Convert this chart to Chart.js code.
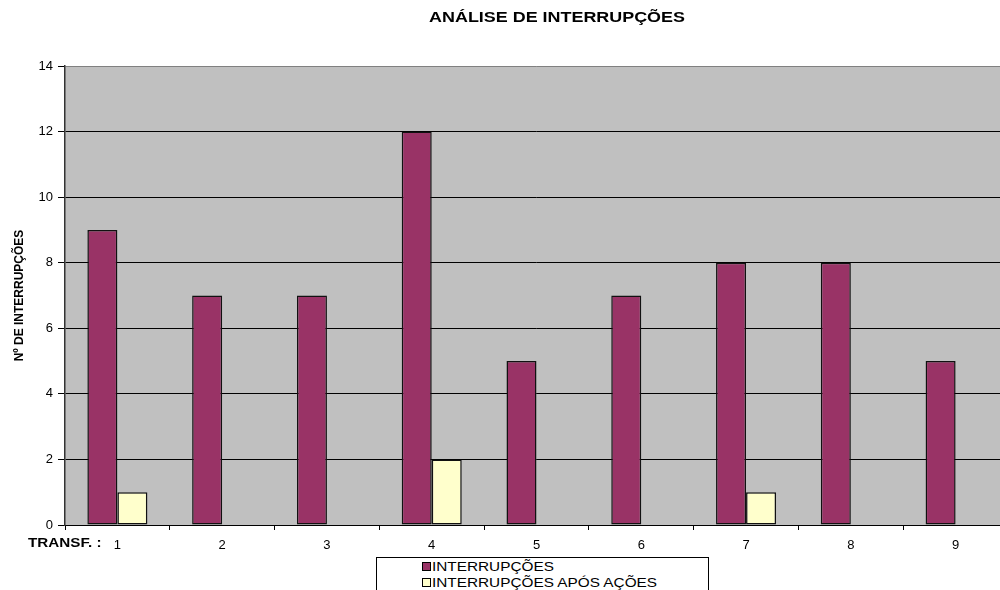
<!DOCTYPE html>
<html>
<head>
<meta charset="utf-8">
<script src="https://cdn.jsdelivr.net/npm/chart.js@4.4.1/dist/chart.umd.min.js"></script>
<style>
  html, body { margin: 0; padding: 0; background: #ffffff; }
  #frame { position: relative; width: 1000px; height: 590px; overflow: hidden; background: #ffffff; }
  #holder { position: absolute; left: 0; top: 0; width: 1008px; height: 590px; }
  #legend {
    position: absolute; left: 376px; top: 557px; width: 333px; height: 40px;
    border: 1px solid #000; background: #fff; box-sizing: border-box;
    font-family: "Liberation Sans", Arial, sans-serif; font-size: 13px; color: #000;
  }
  #legend .row { position: absolute; left: 45px; height: 16px; line-height: 16px; white-space: nowrap; }
  #legend .sw { position: absolute; left: 0; top: 4px; width: 7px; height: 7px; border: 1px solid #000; }
  #legend .tx { position: absolute; left: 10px; top: 1px; transform: scaleX(1.18); transform-origin: left center; }
</style>
</head>
<body>
<div id="frame">
  <div id="holder"><canvas id="c"></canvas></div>
  <div id="legend"></div>
</div>
<script>
// Transformer numbers and interruption counts
const categories = ['1', '2', '3', '4', '5', '6', '7', '8', '9'];
const interrupcoes = [9, 7, 7, 12, 5, 7, 8, 8, 5];
const aposAcoes = [1, 0, 0, 2, 0, 0, 1, 0, 0];
const yTicks = [0, 2, 4, 6, 8, 10, 12, 14];

const seriesNames = ['INTERRUPÇÕES', 'INTERRUPÇÕES APÓS AÇÕES'];
const seriesColors = ['#993366', '#FFFFCC'];
const chartTitle = 'ANÁLISE DE INTERRUPÇÕES';
const xAxisLabel = 'TRANSF. :';
const yAxisLabel = 'Nº DE INTERRUPÇÕES';

const FONT = '"Liberation Sans", Arial, sans-serif';

// grey plot background
const plotBackground = {
  id: 'plotBackground',
  beforeDraw(chart) {
    const { ctx, chartArea: a } = chart;
    ctx.save();
    ctx.fillStyle = '#C0C0C0';
    ctx.fillRect(a.left, a.top, a.right - a.left, a.bottom - a.top);
    ctx.restore();
  }
};

// chart heading and the category caption left of the x labels
const extraText = {
  id: 'extraText',
  afterDraw(chart) {
    const { ctx } = chart;
    ctx.save();
    ctx.fillStyle = '#000';
    ctx.textBaseline = 'middle';

    ctx.font = 'bold 14px ' + FONT;
    ctx.textAlign = 'center';
    ctx.translate(557, 18);
    ctx.scale(1.28, 1);
    ctx.fillText(chartTitle, 0, 0);
    ctx.setTransform(1, 0, 0, 1, 0, 0);

    ctx.font = 'bold 13px ' + FONT;
    ctx.textAlign = 'left';
    ctx.translate(28, 543);
    ctx.scale(1.17, 1);
    ctx.fillText(xAxisLabel, 0, 0);
    ctx.restore();
  }
};

const chart = new Chart(document.getElementById('c'), {
  type: 'bar',
  data: {
    labels: categories,
    datasets: [
      {
        label: seriesNames[0],
        data: interrupcoes,
        backgroundColor: seriesColors[0],
        borderColor: '#111',
        borderWidth: (c) => (c.raw ? 1.5 : 0),
        borderSkipped: false
      },
      {
        label: seriesNames[1],
        data: aposAcoes,
        backgroundColor: seriesColors[1],
        borderColor: '#111',
        borderWidth: (c) => (c.raw ? 1.5 : 0),
        borderSkipped: false
      }
    ]
  },
  options: {
    responsive: true,
    maintainAspectRatio: false,
    animation: false,
    datasets: { bar: { categoryPercentage: 0.573, barPercentage: 1 } },
    layout: { padding: { top: 66, right: 0, bottom: 0, left: 0 } },
    plugins: {
      legend: { display: false },
      title: { display: false },
      tooltip: { enabled: false }
    },
    scales: {
      x: {
        offset: true,
        grid: {
          display: true,
          offset: true,
          drawOnChartArea: false,
          drawTicks: true,
          tickLength: 5,
          tickColor: '#000',
          tickWidth: 1
        },
        border: { display: true, color: '#000', width: 1 },
        ticks: {
          color: '#000',
          font: { family: FONT, size: 13 },
          padding: 8,
          maxRotation: 0,
          autoSkip: false
        },
        afterFit(scale) { scale.height = 65; }
      },
      y: {
        min: 0,
        max: 14,
        afterBuildTicks(scale) { scale.ticks = yTicks.map((v) => ({ value: v })); },
        grid: {
          color: (c) => (c.tick && c.tick.value === 14 ? '#808080' : '#000'),
          lineWidth: 1,
          drawTicks: true,
          tickLength: 7,
          tickColor: '#000'
        },
        border: { display: true, color: '#333', width: 1.5 },
        ticks: {
          color: '#000',
          font: { family: FONT, size: 13 },
          padding: 5
        },
        title: {
          display: true,
          text: yAxisLabel,
          color: '#000',
          font: { family: FONT, size: 12, weight: 'bold' },
          padding: { top: 12, bottom: 0 }
        },
        afterFit(scale) { scale.width = 65; }
      }
    }
  },
  plugins: [plotBackground, extraText]
});

// legend built from the datasets
const legend = document.getElementById('legend');
chart.data.datasets.forEach((ds, i) => {
  const row = document.createElement('div');
  row.className = 'row';
  row.style.top = (i * 16) + 'px';
  const sw = document.createElement('span');
  sw.className = 'sw';
  sw.style.background = ds.backgroundColor;
  const tx = document.createElement('span');
  tx.className = 'tx';
  tx.textContent = ds.label;
  row.appendChild(sw);
  row.appendChild(tx);
  legend.appendChild(row);
});
</script>
</body>
</html>
